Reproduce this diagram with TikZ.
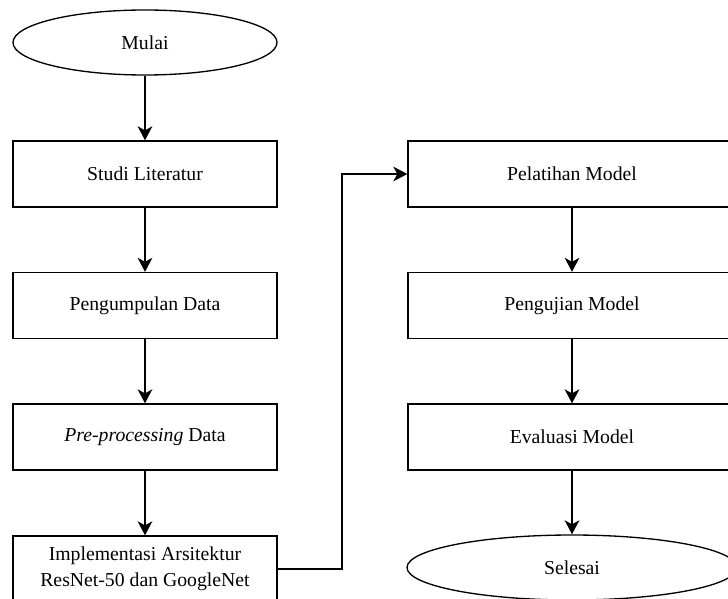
\documentclass[tikz,border=0pt]{standalone}
\usepackage{fontspec}
\setmainfont{Liberation Serif}
\usetikzlibrary{shapes.geometric,arrows.meta}
\begin{document}
\begin{tikzpicture}[x=0.75pt,y=-0.75pt,
  every node/.style={font=\fontsize{14.8}{19.5}\selectfont, align=center, inner sep=0pt},
  box/.style={draw, line width=1pt, rectangle, minimum height=49.5pt},
  lbox/.style={box, minimum width=198pt},
  rbox/.style={box, minimum width=246pt},
  term/.style={draw, line width=1pt, ellipse, minimum height=48.75pt},
  flow/.style={line width=1pt, -{Stealth[length=10.5pt,width=11pt,inset=3pt]}}]
\fill[white] (0,0) rectangle (728,599);
\clip (0,0) rectangle (728,599);
\node[term, minimum width=198pt] (mulai) at (145,42.5) {Mulai};
\node[lbox] (studi) at (145,174) {Studi Literatur};
\node[lbox] (kumpul) at (145,305.5) {Pengumpulan Data};
\node[lbox] (pre) at (145,437) {\textit{Pre-processing} Data};
\node[lbox] (impl) at (145,569) {Implementasi Arsitektur\\ResNet-50 dan GoogleNet};
\node[rbox] (latih) at (572,174) {Pelatihan Model};
\node[rbox] (uji) at (572,305.5) {Pengujian Model};
\node[rbox] (eval) at (572,437) {Evaluasi Model};
\node[term, minimum width=247.5pt] (selesai) at (572,567.5) {Selesai};
\coordinate (bend) at (342,569);
\draw[flow] (mulai) -- (studi);
\draw[flow] (studi) -- (kumpul);
\draw[flow] (kumpul) -- (pre);
\draw[flow] (pre) -- (impl);
\draw[flow] (impl.east) -- (bend) |- (latih.west);
\draw[flow] (latih) -- (uji);
\draw[flow] (uji) -- (eval);
\draw[flow] (eval) -- (selesai);
\end{tikzpicture}
\end{document}
